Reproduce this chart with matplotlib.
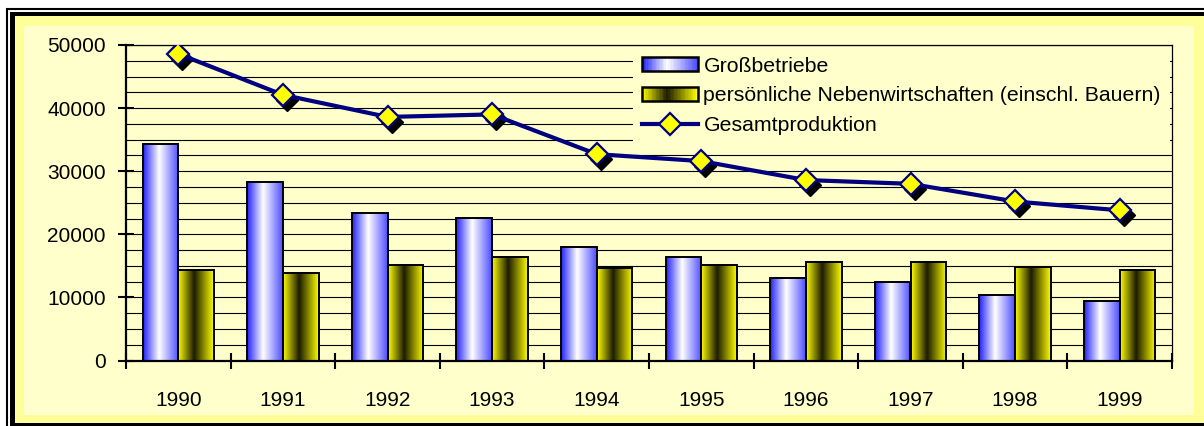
import numpy as np
import matplotlib
matplotlib.use("Agg")
import matplotlib.pyplot as plt
from matplotlib.colors import LinearSegmentedColormap
from matplotlib.patches import Rectangle, Patch
from matplotlib.lines import Line2D
from matplotlib.legend_handler import HandlerBase
from matplotlib.transforms import offset_copy
from matplotlib.ticker import MultipleLocator, FixedLocator, NullFormatter, FixedFormatter

years = ['1990', '1991', '1992', '1993', '1994', '1995', '1996', '1997', '1998', '1999']
grossbetriebe = [34300, 28300, 23400, 22600, 18000, 16400, 13000, 12400, 10400, 9500]
nebenwirtschaften = [14300, 13800, 15200, 16400, 14700, 15200, 15600, 15600, 14800, 14300]
gesamt = [48600, 42100, 38600, 39000, 32700, 31600, 28600, 28000, 25200, 23800]

labels = ['Großbetriebe',
          'persönliche Nebenwirtschaften (einschl. Bauern)',
          'Gesamtproduktion']

plt.rcParams['font.family'] = ['Liberation Sans', 'DejaVu Sans']

LIGHT = '#FFFFCC'
BAND = '#FFFF99'
NAVY = '#000080'

# horizontal gradients like the old excel bars
cm_blue = LinearSegmentedColormap.from_list(
    'blau', [(0, '#2020FF'), (0.45, '#FFFFFF'), (1, '#4C4CFF')])
cm_gelb = LinearSegmentedColormap.from_list(
    'gelb', [(0, '#FFFF00'), (0.45, '#1C1C00'), (1, '#FFFF00')])


class GradHandler(HandlerBase):
    def __init__(self, cmap):
        super().__init__()
        self.cmap = cmap

    def create_artists(self, legend, orig_handle, xdescent, ydescent,
                       width, height, fontsize, trans):
        arts = []
        n = 40
        for k in range(n):
            arts.append(Rectangle((-xdescent + width * k / n, -ydescent),
                                  width / n * 1.1, height,
                                  facecolor=self.cmap((k + 0.5) / n),
                                  edgecolor='none', transform=trans))
        arts.append(Rectangle((-xdescent, -ydescent), width, height,
                              fill=False, edgecolor='black', lw=1.8,
                              transform=trans))
        return arts


W, H = 1204, 426
fig = plt.figure(figsize=(W / 100, H / 100), dpi=100)
fig.patch.set_facecolor('white')


def frame_rect(x0, top, x1, bottom, **kw):
    # pixel coords measured from the top left corner
    r = Rectangle((x0, H - bottom), x1 - x0, bottom - top, transform=None,
                  zorder=-10, **kw)
    fig.patches.append(r)


frame_rect(7, 9, 1215, 440, fill=False, edgecolor='black', lw=1.5)
frame_rect(10, 12, 1215, 440, facecolor='black', edgecolor='none')
frame_rect(15, 16, 1215, 423, facecolor=BAND, edgecolor='none')
frame_rect(24, 26, 1194, 415, facecolor=LIGHT, edgecolor='none')

ax = fig.add_axes([126 / W, 1 - 360.5 / H, (1172 - 126) / W, (360.5 - 45) / H])
ax.set_facecolor(LIGHT)
ax.set_axisbelow(True)

x = np.arange(len(years))
bw = 0.342
grad = np.linspace(0, 1, 256).reshape(1, -1)

for i in range(len(years)):
    for val, off, cm in ((grossbetriebe[i], -bw / 2, cm_blue),
                         (nebenwirtschaften[i], bw / 2, cm_gelb)):
        x0 = x[i] + off - bw / 2
        ax.imshow(grad, cmap=cm, extent=(x0, x0 + bw, 0, val), aspect='auto',
                  interpolation='bilinear', zorder=2)
ax.bar(x - bw / 2, grossbetriebe, bw, fill=False, edgecolor='black', lw=1.4, zorder=3)
ax.bar(x + bw / 2, nebenwirtschaften, bw, fill=False, edgecolor='black', lw=1.4, zorder=3)

# shadow of the markers
shadow = offset_copy(ax.transData, fig=fig, x=4, y=-5, units='dots')
ax.plot(x, gesamt, linestyle='none', marker='D', markersize=11.5,
        markerfacecolor='black', markeredgecolor='black', transform=shadow, zorder=4)
ax.plot(x, gesamt, color=NAVY, lw=3, zorder=5)
ax.plot(x, gesamt, linestyle='none', marker='D', markersize=11.5,
        markerfacecolor='#FFFF00', markeredgecolor=NAVY, markeredgewidth=1.6, zorder=6)

ax.set_xlim(-0.5, len(years) - 0.5)
ax.set_ylim(0, 50000)

ax.yaxis.set_major_locator(MultipleLocator(10000))
ax.yaxis.set_minor_locator(MultipleLocator(2500))
ax.grid(True, which='both', axis='y', color='black', lw=0.8)
ax.tick_params(axis='y', which='major', direction='inout', length=11, width=1.5,
               labelsize=15, pad=9)
ax.tick_params(axis='y', which='minor', length=0)

ax.xaxis.set_major_locator(FixedLocator(np.arange(-0.5, len(years), 1.0)))
ax.xaxis.set_major_formatter(NullFormatter())
ax.xaxis.set_minor_locator(FixedLocator(x))
ax.xaxis.set_minor_formatter(FixedFormatter(years))
ax.tick_params(axis='x', which='major', direction='inout', length=11, width=1.5)
ax.tick_params(axis='x', which='minor', length=0, labelsize=15, pad=22)

for s in ('left', 'bottom'):
    ax.spines[s].set_linewidth(1.6)
for s in ('top', 'right'):
    ax.spines[s].set_linewidth(0.9)

handles = [Patch(), Patch(),
           Line2D([], [], color=NAVY, lw=3, marker='D', markersize=11,
                  markerfacecolor='#FFFF00', markeredgecolor=NAVY, markeredgewidth=1.6)]
leg = ax.legend(handles, labels, loc='upper right', bbox_to_anchor=(1.0, 0.998),
                fontsize=15.3, frameon=True, fancybox=False, framealpha=1,
                facecolor=LIGHT, edgecolor='none', handlelength=2.6,
                handleheight=0.66, handletextpad=0.28, labelspacing=0.5,
                borderpad=0.42, borderaxespad=0.1,
                handler_map={handles[0]: GradHandler(cm_blue),
                             handles[1]: GradHandler(cm_gelb)})
leg.set_zorder(7)

fig.savefig('out.png', dpi=100)
